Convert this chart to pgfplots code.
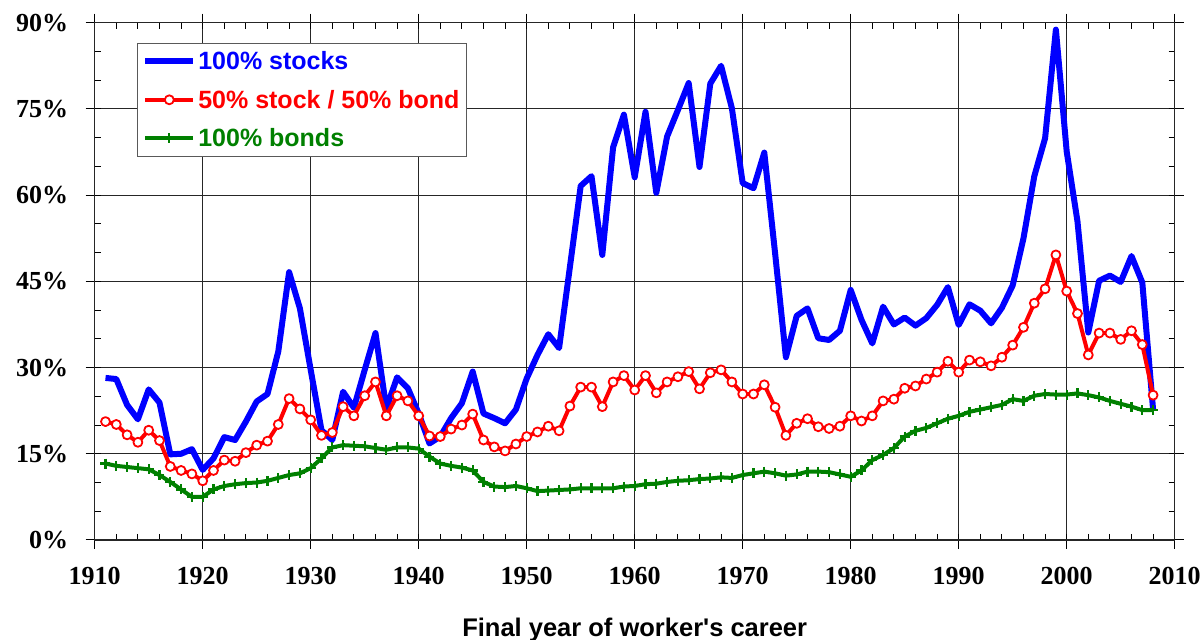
\documentclass[border=0pt]{standalone}
\usepackage{fontspec}
\setmainfont{Liberation Serif}
\newfontfamily\arialfont{Liberation Sans}
\usepackage{pgfplots}
\pgfplotsset{compat=1.18}
\definecolor{sblue}{RGB}{0,0,255}
\definecolor{sred}{RGB}{255,0,0}
\definecolor{sgreen}{RGB}{0,128,0}
\begin{document}
\begin{tikzpicture}[x=1pt,y=1pt]
\path[use as bounding box] (0,0) rectangle (1203,640);
\begin{axis}[
  at={(94.7pt,100pt)}, anchor=south west,
  scale only axis, width=1080pt, height=517.3pt,
  xmin=1910, xmax=2010, ymin=0, ymax=90,
  xtick={1910,1920,...,2010}, ytick={0,15,...,90},
  minor xtick={1912,1914,...,2008}, minor ytick={5,10,...,85},
  grid=major, major grid style={black!85, line width=1pt},
  axis line style={black!85, line width=1.2pt},
  tick style={black, line width=1pt},
  tick align=outside, major tick length=9pt, minor tick length=-6pt,
  /pgf/number format/assume math mode=true,
  /pgf/number format/1000 sep={},
  xticklabel={\pgfmathprintnumber{\tick}},
  yticklabel={\pgfmathprintnumber{\tick}\%},
  ticklabel style={font=\fontsize{26}{30}\selectfont\bfseries},
  xticklabel style={yshift=-15pt},
  yticklabel style={xshift=-14pt},
  xlabel={Final year of worker's career},
  xlabel style={font=\arialfont\bfseries\fontsize{25.5}{30}\selectfont, yshift=-26pt},
  legend style={at={(rel axis cs:0.039,0.961)}, anchor=north west, draw=black!65, line width=1pt,
    font=\arialfont\bfseries\fontsize{25}{30}\selectfont, inner xsep=5pt, inner ysep=6pt,
    row sep=15pt, fill=white},
  legend cell align=left,
  legend image code/.code={\draw[mark repeat=2,mark phase=2,#1] plot coordinates {(0pt,0pt) (24pt,0pt) (48pt,0pt)};},
]
\addplot[sblue, line width=6pt, line join=round, mark=none] coordinates {
(1911,28.2)(1912,28.0)(1913,23.5)(1914,21.0)(1915,26.2)(1916,23.9)(1917,14.9)(1918,15.0)(1919,15.8)(1920,12.2)
(1921,14.2)(1922,17.9)(1923,17.4)(1924,20.6)(1925,24.1)(1926,25.4)(1927,32.8)(1928,46.6)(1929,40.3)(1930,29.6)
(1931,19.1)(1932,17.4)(1933,25.8)(1934,23.0)(1935,29.6)(1936,36.0)(1937,22.9)(1938,28.3)(1939,26.4)(1940,22.0)
(1941,16.8)(1942,18.0)(1943,21.2)(1944,23.8)(1945,29.3)(1946,22.0)(1947,21.2)(1948,20.3)(1949,22.7)(1950,28.1)
(1951,32.2)(1952,35.8)(1953,33.4)(1954,47.5)(1955,61.6)(1956,63.3)(1957,49.6)(1958,68.3)(1959,74.0)(1960,63.1)
(1961,74.5)(1962,60.4)(1963,70.2)(1964,74.8)(1965,79.5)(1966,64.9)(1967,79.4)(1968,82.5)(1969,75.1)(1970,62.1)
(1971,61.2)(1972,67.4)(1973,49.9)(1974,31.8)(1975,39.0)(1976,40.3)(1977,35.1)(1978,34.8)(1979,36.4)(1980,43.5)
(1981,38.3)(1982,34.2)(1983,40.6)(1984,37.5)(1985,38.7)(1986,37.3)(1987,38.6)(1988,40.9)(1989,44.0)(1990,37.4)
(1991,41.0)(1992,39.9)(1993,37.7)(1994,40.4)(1995,44.3)(1996,52.5)(1997,63.3)(1998,69.9)(1999,88.8)(2000,67.6)
(2001,55.4)(2002,36.1)(2003,45.1)(2004,46.0)(2005,44.9)(2006,49.4)(2007,44.8)(2008,22.7)
};
\addlegendentry{\textcolor{sblue}{100\% stocks}}
\addplot[sred, line width=4pt, line join=round, mark=*, mark size=4.5pt, mark options={fill=white, draw=sred, line width=1.8pt}] coordinates {
(1911,20.6)(1912,20.1)(1913,18.3)(1914,17.0)(1915,19.1)(1916,17.3)(1917,12.8)(1918,12.1)(1919,11.5)(1920,10.3)
(1921,12.1)(1922,13.9)(1923,13.7)(1924,15.2)(1925,16.5)(1926,17.2)(1927,20.1)(1928,24.6)(1929,22.8)(1930,20.9)
(1931,18.2)(1932,18.7)(1933,23.2)(1934,21.6)(1935,25.1)(1936,27.5)(1937,21.6)(1938,25.1)(1939,24.2)(1940,21.6)
(1941,18.1)(1942,18.0)(1943,19.3)(1944,20.0)(1945,21.9)(1946,17.4)(1947,16.2)(1948,15.5)(1949,16.7)(1950,18.0)
(1951,18.8)(1952,19.8)(1953,19.0)(1954,23.3)(1955,26.6)(1956,26.6)(1957,23.2)(1958,27.5)(1959,28.6)(1960,26.1)
(1961,28.6)(1962,25.6)(1963,27.5)(1964,28.4)(1965,29.3)(1966,26.3)(1967,29.1)(1968,29.6)(1969,27.5)(1970,25.4)
(1971,25.4)(1972,27.0)(1973,23.1)(1974,18.2)(1975,20.3)(1976,21.1)(1977,19.7)(1978,19.4)(1979,19.8)(1980,21.6)
(1981,20.7)(1982,21.6)(1983,24.2)(1984,24.5)(1985,26.4)(1986,26.8)(1987,28.0)(1988,29.2)(1989,31.1)(1990,29.2)
(1991,31.3)(1992,31.0)(1993,30.3)(1994,31.8)(1995,33.9)(1996,37.0)(1997,41.2)(1998,43.7)(1999,49.6)(2000,43.3)
(2001,39.4)(2002,32.2)(2003,36.0)(2004,36.0)(2005,34.9)(2006,36.4)(2007,34.0)(2008,25.2)
};
\addlegendentry{\textcolor{sred}{50\% stock / 50\% bond}}
\addplot[sgreen, line width=4pt, line join=round, mark=+, mark size=5pt, mark options={line width=2.2pt}] coordinates {
(1911,13.3)(1912,12.9)(1913,12.7)(1914,12.5)(1915,12.3)(1916,11.3)(1917,10.1)(1918,8.8)(1919,7.5)(1920,7.5)
(1921,8.8)(1922,9.4)(1923,9.7)(1924,9.9)(1925,10.0)(1926,10.3)(1927,10.8)(1928,11.3)(1929,11.6)(1930,12.5)
(1931,14.2)(1932,16.1)(1933,16.5)(1934,16.4)(1935,16.3)(1936,16.0)(1937,15.7)(1938,16.1)(1939,16.1)(1940,15.9)
(1941,14.5)(1942,13.3)(1943,12.9)(1944,12.6)(1945,12.1)(1946,10.1)(1947,9.3)(1948,9.2)(1949,9.4)(1950,9.0)
(1951,8.5)(1952,8.6)(1953,8.7)(1954,8.8)(1955,9.0)(1956,9.0)(1957,9.0)(1958,9.0)(1959,9.3)(1960,9.4)
(1961,9.7)(1962,9.8)(1963,10.1)(1964,10.3)(1965,10.4)(1966,10.6)(1967,10.7)(1968,10.9)(1969,10.8)(1970,11.3)
(1971,11.6)(1972,11.9)(1973,11.6)(1974,11.2)(1975,11.4)(1976,11.9)(1977,11.9)(1978,11.8)(1979,11.4)(1980,11.0)
(1981,12.1)(1982,13.9)(1983,14.8)(1984,16.0)(1985,18.0)(1986,19.0)(1987,19.5)(1988,20.3)(1989,21.1)(1990,21.6)
(1991,22.3)(1992,22.7)(1993,23.1)(1994,23.5)(1995,24.5)(1996,24.2)(1997,25.1)(1998,25.4)(1999,25.3)(2000,25.3)
(2001,25.5)(2002,25.2)(2003,24.8)(2004,24.2)(2005,23.7)(2006,23.2)(2007,22.6)(2008,22.6)
};
\addlegendentry{\textcolor{sgreen}{100\% bonds}}
\end{axis}
\end{tikzpicture}
\end{document}
